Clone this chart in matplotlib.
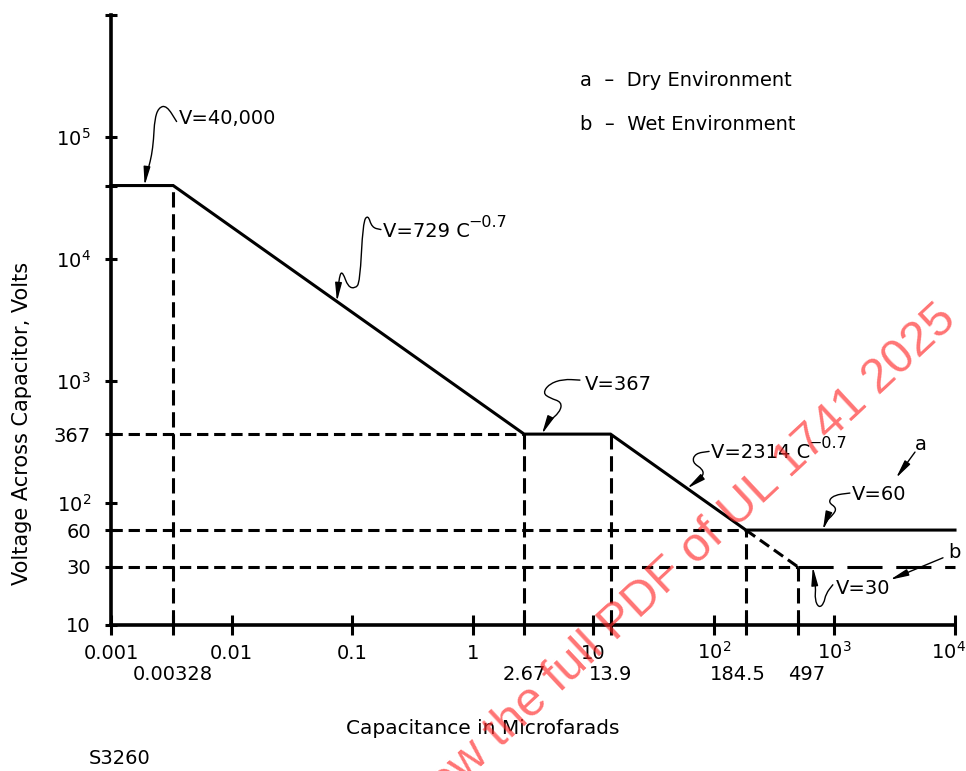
import matplotlib
matplotlib.use('Agg')
import matplotlib.pyplot as plt
from matplotlib.path import Path
from matplotlib.patches import FancyArrowPatch
from matplotlib.transforms import IdentityTransform, ScaledTranslation

plt.rcParams['font.family'] = ['DejaVu Sans']
plt.rcParams['mathtext.default'] = 'regular'

# ---------------- data ----------------
# curve "a" (dry environment), breakpoints of the piecewise power law
curve_caps = [0.001, 0.00328, 2.67, 13.9, 184.5, 1e4]
curve_volts = [40000, 40000, 367, 367, 60, 60]
# curve "b" (wet environment) continuation
wet_slope_caps = [184.5, 497]
wet_slope_volts = [60, 30]
wet_tail_caps = [497, 1e4]
wet_tail_volts = [30, 30]
# projection (guide) lines
drop_caps = [0.00328, 2.67, 13.9, 184.5, 497]
drop_volts = [40000, 367, 367, 60, 30]
level_volts = [367, 60, 30]
level_caps = [2.67, 184.5, 497]
# ticks
x_major = [0.001, 0.01, 0.1, 1, 10, 100, 1000, 10000]
x_major_labels = ['0.001', '0.01', '0.1', '1', '10', '$10^2$', '$10^3$', '$10^4$']
x_minor = [0.00328, 2.67, 13.9, 184.5, 497]
x_minor_labels = ['0.00328', '2.67', '13.9', '184.5', '497']
y_major = [10, 100, 1e3, 1e4, 1e5, 1e6]
y_major_labels = ['10', '$10^2$', '$10^3$', '$10^4$', '$10^5$', '']
y_minor = [30, 60, 367, 40000]
y_minor_labels = ['30', '60', '367', '']
# power-law constants
k1, k2, expo = 729, 2314, 0.7

FS = 14

fig = plt.figure(figsize=(9.66, 7.71), dpi=100)
ax = fig.add_axes([111/966, 1-625/771, (955-111)/966, (625-15)/771])
ax.set_xscale('log')
ax.set_yscale('log')
ax.set_xlim(0.001, 1e4)
ax.set_ylim(10, 1e6)
for s in ['top', 'right']:
    ax.spines[s].set_visible(False)
for s in ['left', 'bottom']:
    ax.spines[s].set_linewidth(2.6)

LW = 2.2
short_h = (3.7, 1.9)
short_v = (5.0, 2.2)
long_ = (11.5, 4.5)

# guide lines
for v, c in zip(level_volts, level_caps):
    ax.plot([x_major[0], c], [v, v], color='black', lw=LW, dashes=short_h, clip_on=False)
for c, v in zip(drop_caps, drop_volts):
    ax.plot([c, c], [y_major[0], v], color='black', lw=LW, dashes=short_v, clip_on=False)
# wet curve
ax.plot(wet_slope_caps, wet_slope_volts, color='black', lw=LW, dashes=short_h, clip_on=False)
ax.plot(wet_tail_caps, wet_tail_volts, color='black', lw=LW, dashes=long_, clip_on=False)
# dry curve
ax.plot(curve_caps, curve_volts, color='black', lw=LW, solid_joinstyle='miter',
        clip_on=False, zorder=5)

# ticks
ax.set_xticks(x_major)
ax.set_xticklabels(x_major_labels)
ax.set_xticks(x_minor, minor=True)
ax.set_xticklabels(x_minor_labels, minor=True)
ax.set_yticks(y_major)
ax.set_yticklabels(y_major_labels)
ax.set_yticks(y_minor, minor=True)
ax.set_yticklabels(y_minor_labels, minor=True)
ax.tick_params(axis='x', which='both', direction='inout', length=14, width=2.2,
               labelsize=FS)
ax.tick_params(axis='x', which='major', pad=17.5)
ax.tick_params(axis='x', which='minor', pad=32.5)
ax.tick_params(axis='y', which='both', direction='inout', length=9, width=2.2,
               labelsize=FS, pad=10)
plt.setp(ax.get_xticklabels(), va='baseline')
plt.setp(ax.get_xticklabels(minor=True), va='baseline')
# nudge crowded / edge labels, as in the drawing
nudges = {'184.5': -8, '497': 9, '$10^4$': -7}
for lab in ax.get_xticklabels(minor=True) + ax.get_xticklabels():
    if lab.get_text() in nudges:
        lab.set_transform(lab.get_transform() +
                          ScaledTranslation(nudges[lab.get_text()] / 100, 0,
                                            fig.dpi_scale_trans))

# annotation helpers
HEAD = '-|>,head_length=0.55,head_width=0.1'


def leader(tip, pts):
    tx, ty = ax.transData.transform(tip)
    sc = fig.dpi / 100
    P = [(tx + sc * x, ty - sc * y) for x, y in pts]
    mid = lambda a, b: ((a[0] + b[0]) / 2, (a[1] + b[1]) / 2)
    verts = [P[0], mid(P[0], P[1])]
    codes = [Path.MOVETO, Path.LINETO]
    for i in range(1, len(P) - 1):
        verts += [P[i], mid(P[i], P[i + 1])]
        codes += [Path.CURVE3, Path.CURVE3]
    verts.append(P[-1])
    codes.append(Path.LINETO)
    arr = FancyArrowPatch(path=Path(verts, codes), arrowstyle=HEAD, mutation_scale=20,
                          color='black', lw=1.0, transform=IdentityTransform(),
                          zorder=6)
    fig.add_artist(arr)


def label(tip, text, dx, dy, sup=None):
    t = ax.annotate(text, xy=tip, xytext=(dx, dy), textcoords='offset pixels',
                    ha='left', va='center', fontsize=FS, annotation_clip=False)
    if sup:
        ax.annotate(sup, xy=(1.0, 0.6), xycoords=t, xytext=(-2, 0),
                    textcoords='offset pixels', ha='left', va='bottom',
                    fontsize=11.5, annotation_clip=False)
    return t


tip1 = (0.0019, 40000)
label(tip1, 'V=40,000', 34, 67)
leader(tip1, [(32, -64), (22, -80), (14, -78), (10, -66), (9, -46), (7, -30),
              (4, -18), (1, -8), (0, 0)])

c2 = 0.0748
tip2 = (c2, k1 * c2 ** -expo)
label(tip2, 'V=729 C', 46, 70, sup='\u22120.7')
leader(tip2, [(44, -72), (35, -74), (31, -87), (26, -79), (23, -19), (18, -13),
              (11, -15), (6, -29), (3, -28), (1, -12), (0, 0)])

tip3 = (3.75, 367)
label(tip3, 'V=367', 43, 50)
leader(tip3, [(38, -54), (21, -55), (7, -50), (1, -41), (8, -36), (20, -32),
              (18, -22), (6, -12), (0, 0)])

c4 = 60
tip4 = (c4, k2 * c4 ** -expo)
label(tip4, 'V=2314 C', 24, 36, sup='\u22120.7')
leader(tip4, [(22, -37), (8, -35), (5, -26), (16, -19), (16, -12), (8, -6), (0, 0)])

tip5 = (802, 60)
label(tip5, 'V=60', 29, 36)
leader(tip5, [(27, -37), (11, -35), (5, -28), (14, -22), (10, -15), (3, -9), (0, 0)])

tip6 = (662, 30)
label(tip6, 'V=30', 23, -22)
leader(tip6, [(20, 18), (13, 27), (11, 37), (6, 41), (2, 33), (3, 20), (1, 10), (0, 0)])

end_a = (1e4, 60)
label(end_a, 'a', -40, 86)
leader(end_a, [(-40, -78), (-59, -52)])
end_b = (1e4, 30)
label(end_b, 'b', -7, 14)
leader(end_b, [(-12, -9), (-65, 13)])

# texts
fig.text(580/966, 1-80/771, 'a  –  Dry Environment', fontsize=FS, va='center')
fig.text(580/966, 1-125/771, 'b  –  Wet Environment', fontsize=FS, va='center')
fig.text(483/966, 1-728/771, 'Capacitance in Microfarads', fontsize=14.5,
         ha='center', va='center')
fig.text(22/966, 1-423/771, 'Voltage Across Capacitor, Volts', fontsize=15,
         ha='center', va='center', rotation=90)
fig.text(89/966, 1-758/771, 'S3260', fontsize=FS, va='center')

# watermark
fig.text(958/966, 1-322/771, 'Click to view the full PDF of UL 1741 2025',
         fontsize=35, family='Liberation Sans', color='#ff2a2a', alpha=0.65,
         rotation=43, rotation_mode='anchor', ha='right', va='baseline', zorder=10)

fig.savefig('out.png', dpi=100)
